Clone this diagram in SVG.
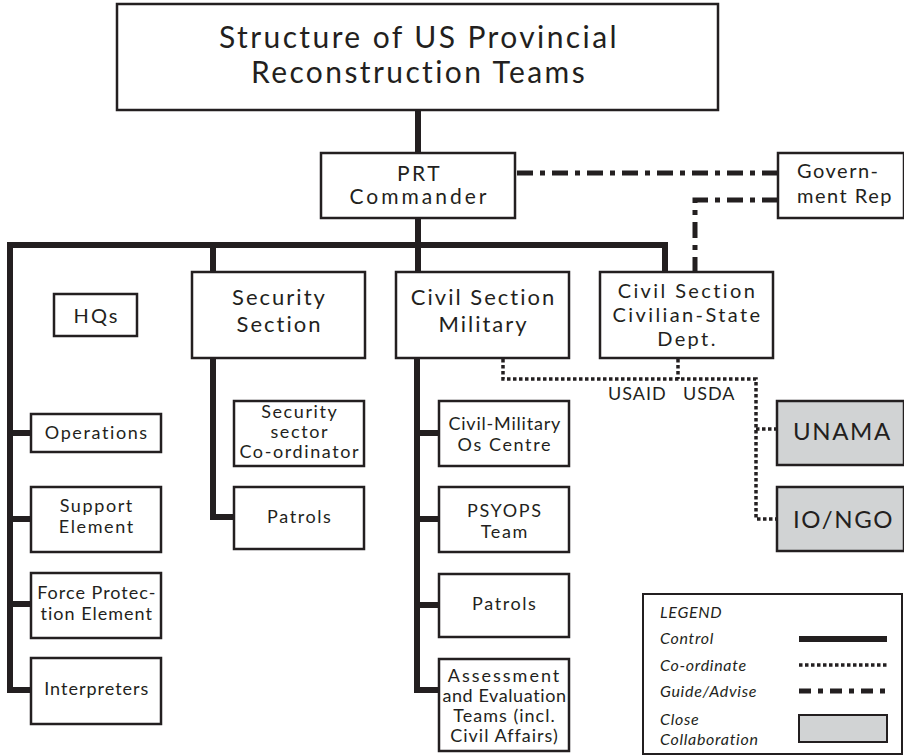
<svg xmlns="http://www.w3.org/2000/svg" width="904" height="756" viewBox="0 0 904 756">
<style>
  text { font-family: "Lato", "Liberation Sans", sans-serif; fill: #231f20; text-anchor: middle; }
  .box { fill: #ffffff; stroke: #231f20; stroke-width: 2.5; }
  .grey { fill: #d1d3d4; stroke: #231f20; stroke-width: 2.5; }
  .ctrl { fill: none; stroke: #231f20; stroke-width: 6; stroke-linejoin: miter; stroke-linecap: square; }
  .coord { fill: none; stroke: #231f20; stroke-width: 3.5; stroke-dasharray: 3.5 2.5; }
  .guide { fill: none; stroke: #231f20; stroke-width: 5; stroke-dasharray: 16 7 5 7; }
  .t30 { font-size: 30px; letter-spacing: 2.4px; }
  .t22 { font-size: 22px; letter-spacing: 2px; }
  .t20 { font-size: 20px; letter-spacing: 2px; }
  .t18 { font-size: 18px; letter-spacing: 1.6px; }
  .lab { font-size: 18px; letter-spacing: 1px; text-anchor: start; }
  .big { font-size: 24px; letter-spacing: 1.6px; text-anchor: start; }
  .leg { font-size: 16px; letter-spacing: 0.7px; font-style: italic; text-anchor: start; }
</style>

<g id="connectors">
  <!-- control -->
  <path class="ctrl" d="M418,110 V153"/>
  <path class="ctrl" d="M418,218 V272"/>
  <path class="ctrl" d="M10,245 H665 V272"/>
  <path class="ctrl" d="M213,245 V272"/>
  <path class="ctrl" d="M10,245 V690 H31"/>
  <path class="ctrl" d="M10,433 H31 M10,519 H31 M10,604 H31"/>
  <path class="ctrl" d="M213,358 V517 H234"/>
  <path class="ctrl" d="M417,358 V690 H439"/>
  <path class="ctrl" d="M417,433 H439 M417,519 H439 M417,605 H439"/>
  <!-- guide/advise -->
  <path class="guide" d="M517,173 H778"/>
  <path class="guide" d="M778,200 H695 V272"/>
  <!-- co-ordinate -->
  <path class="coord" d="M503,359 V379 H756 V519 H777"/>
  <path class="coord" d="M678,359 V379"/>
  <path class="coord" d="M756,429 H777"/>
  <text class="lab" x="608" y="400">USAID</text>
  <text class="lab" x="683" y="400">USDA</text>
</g>

<g id="title">
  <rect class="box" x="117" y="4" width="601" height="106"/>
  <text class="t30" x="419" y="48">Structure of US Provincial</text>
  <text class="t30" x="419" y="83">Reconstruction Teams</text>
</g>

<g id="prt-commander">
  <rect class="box" x="321" y="153" width="194" height="65"/>
  <text class="t20" x="419.5" y="181" style="font-size:21px;letter-spacing:2.4px">PRT</text>
  <text class="t20" x="419.5" y="204" style="font-size:21px;letter-spacing:3px">Commander</text>
</g>

<g id="government-rep">
  <rect class="box" x="778" y="153" width="126" height="65"/>
  <text class="t20" x="797" y="178" style="text-anchor:start;letter-spacing:1.5px">Govern-</text>
  <text class="t20" x="797" y="203" style="text-anchor:start;letter-spacing:1.5px">ment Rep</text>
</g>

<g id="hqs">
  <rect class="box" x="54" y="294" width="83" height="42"/>
  <text class="t20" x="96.5" y="323">HQs</text>
</g>

<g id="security-section">
  <rect class="box" x="192" y="272" width="173" height="86"/>
  <text class="t22" x="279.5" y="305">Security</text>
  <text class="t22" x="279.5" y="332">Section</text>
</g>

<g id="civil-section-military">
  <rect class="box" x="396" y="272" width="173" height="86"/>
  <text class="t22" x="483.5" y="305">Civil Section</text>
  <text class="t22" x="483.5" y="332">Military</text>
</g>

<g id="civil-section-civilian">
  <rect class="box" x="600" y="272" width="173" height="86"/>
  <text class="t20" x="687.5" y="298" style="letter-spacing:2.4px">Civil Section</text>
  <text class="t20" x="687.5" y="322" style="letter-spacing:2.4px">Civilian-State</text>
  <text class="t20" x="687.5" y="346" style="letter-spacing:2.4px">Dept.</text>
</g>

<g id="operations">
  <rect class="box" x="31" y="414" width="130" height="38"/>
  <text class="t18" x="96.8" y="439">Operations</text>
</g>

<g id="support-element">
  <rect class="box" x="31" y="487" width="130" height="65"/>
  <text class="t18" x="96.8" y="512">Support</text>
  <text class="t18" x="96.8" y="533">Element</text>
</g>

<g id="force-protection">
  <rect class="box" x="31" y="573" width="130" height="65"/>
  <text class="t18" x="96.8" y="599" style="letter-spacing:1px">Force Protec-</text>
  <text class="t18" x="96.8" y="620" style="letter-spacing:1px">tion Element</text>
</g>

<g id="interpreters">
  <rect class="box" x="31" y="658" width="130" height="66"/>
  <text class="t18" x="96.8" y="695" style="letter-spacing:1px">Interpreters</text>
</g>

<g id="security-sector-coordinator">
  <rect class="box" x="234" y="401" width="130" height="65"/>
  <text class="t18" x="299.8" y="418">Security</text>
  <text class="t18" x="299.8" y="438">sector</text>
  <text class="t18" x="299.8" y="458">Co-ordinator</text>
</g>

<g id="security-patrols">
  <rect class="box" x="234" y="487" width="130" height="62"/>
  <text class="t18" x="299.8" y="523">Patrols</text>
</g>

<g id="civil-military-os-centre">
  <rect class="box" x="439" y="401" width="130" height="65"/>
  <text class="t18" x="504.8" y="430" style="letter-spacing:0.8px">Civil-Military</text>
  <text class="t18" x="504.8" y="451">Os Centre</text>
</g>

<g id="psyops-team">
  <rect class="box" x="439" y="487" width="130" height="65"/>
  <text class="t18" x="504.8" y="517">PSYOPS</text>
  <text class="t18" x="504.8" y="538">Team</text>
</g>

<g id="civil-patrols">
  <rect class="box" x="439" y="574" width="130" height="63"/>
  <text class="t18" x="504.8" y="610">Patrols</text>
</g>

<g id="assessment-teams">
  <rect class="box" x="439" y="659" width="130" height="92"/>
  <text class="t18" x="504.5" y="682" style="letter-spacing:2px">Assessment</text>
  <text class="t18" x="504.5" y="702" style="letter-spacing:0.6px">and Evaluation</text>
  <text class="t18" x="504.5" y="722" style="letter-spacing:1px">Teams (incl.</text>
  <text class="t18" x="504.5" y="742" style="letter-spacing:1px">Civil Affairs)</text>
</g>

<g id="unama">
  <rect class="grey" x="777" y="401" width="127" height="64"/>
  <text class="big" x="793" y="440">UNAMA</text>
</g>

<g id="io-ngo">
  <rect class="grey" x="777" y="487" width="127" height="64"/>
  <text class="big" x="793" y="528">IO/NGO</text>
</g>

<g id="legend">
  <rect class="box" x="643" y="594" width="259" height="160" style="stroke-width:2"/>
  <text class="leg" x="660" y="618">LEGEND</text>
  <text class="leg" x="660" y="644">Control</text>
  <text class="leg" x="660" y="671">Co-ordinate</text>
  <text class="leg" x="660" y="697">Guide/Advise</text>
  <text class="leg" x="660" y="725">Close</text>
  <text class="leg" x="660" y="745">Collaboration</text>
  <path d="M799,639 H887" stroke="#231f20" stroke-width="6"/>
  <path class="coord" d="M799,665 H887"/>
  <path d="M799,691 H887" stroke="#231f20" stroke-width="5" stroke-dasharray="12 7 5 7" fill="none"/>
  <rect class="grey" x="799" y="715" width="88" height="27" style="stroke-width:2"/>
</g>
</svg>
